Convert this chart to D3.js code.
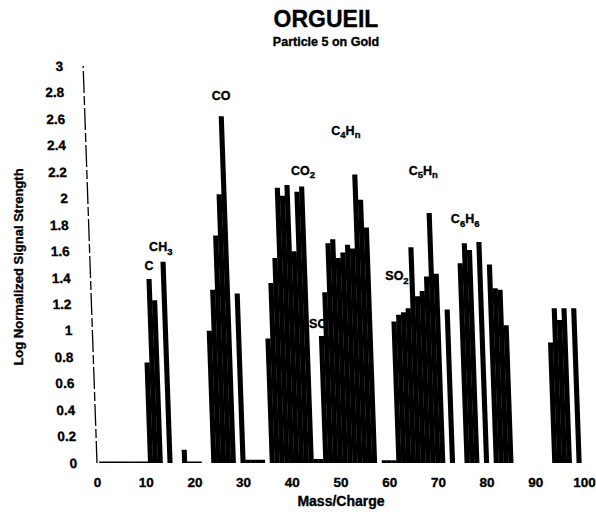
<!DOCTYPE html>
<html>
<head>
<meta charset="utf-8">
<script src="https://cdn.jsdelivr.net/npm/d3@7"></script>
<style>
  html, body { margin: 0; padding: 0; background: #fff; }
  svg { display: block; font-family: "Liberation Sans", Arial, sans-serif; font-weight: bold; }
  svg text { stroke: #000; stroke-width: 0.35px; }
</style>
</head>
<body>
<svg id="chart" width="596" height="512"></svg>
<script>
// Orgueil particle 5 on gold: log normalized signal per integer mass/charge
const masses = [
  1, 2, 3, 4, 5, 6, 7, 8, 9, 10,
  11, 12, 13, 15, 18, 19, 20, 21,
  24, 25, 26, 27, 28, 30, 31, 32, 33, 34,
  36, 37, 38, 39, 40, 41, 42, 43, 44, 45, 46,
  47, 48, 49, 50, 51, 52, 53, 54, 55, 56, 57, 59, 60, 61,
  62, 63, 64, 65, 66, 67, 68, 69, 70, 71, 73,
  76, 77, 78, 80, 82, 83, 84, 85,
  94, 95, 96, 97, 99
];
const signal = [
  0.012, 0.012, 0.012, 0.012, 0.012, 0.012, 0.012, 0.012, 0.012, 0.012,
  0.76, 1.39, 1.23, 1.52, 0.10, 0.012, 0.012, 0.012,
  1.00, 1.31, 1.72, 2.03, 2.62, 1.28, 0.025, 0.025, 0.025, 0.025,
  0.94, 1.36, 1.55, 2.08, 2.02, 2.10, 1.60, 2.05, 2.09, 0.03, 0.03,
  0.96, 1.29, 1.66, 1.69, 1.55, 1.59, 1.65, 1.62, 2.18, 1.99, 1.78, 0.02, 0.02, 0.02,
  1.07, 1.12, 1.14, 1.17, 1.63, 1.26, 1.30, 1.41, 1.89, 1.43, 1.16,
  1.51, 1.66, 1.61, 1.67, 1.50, 1.32, 1.31, 1.04,
  0.91, 1.17, 1.08, 1.17, 1.17
];

const xTickValues = [0, 10, 20, 30, 40, 50, 60, 70, 80, 90, 100];
const yTickValues = [0, 0.2, 0.4, 0.6, 0.8, 1, 1.2, 1.4, 1.6, 1.8, 2, 2.2, 2.4, 2.6, 2.8, 3];
const yTickLabels = ["0", "0.2", "0.4", "0.6", "0.8", "1", "1.2", "1.4", "1.6", "1.8", "2", "2.2", "2.4", "2.6", "2.8", "3"];

// Species annotations ("_" marks a one-character subscript), anchored in data units
const speciesNames = ["C", "CH_3", "CO", "CO_2", "C_4H_n", "C_5H_n", "C_6H_6", "SO_2", "SO"];
const speciesMass = [10.7, 13.1, 25.5, 42.3, 51.1, 67.0, 75.6, 61.6, 45.4];
const speciesSignal = [1.46, 1.60, 2.74, 2.18, 2.48, 2.18, 1.81, 1.38, 1.02];

const svg = d3.select("#chart");

const x = d3.scaleLinear().domain([0, 100]).range([97, 584]);
const y = d3.scaleLinear().domain([0, 3]).range([463, 66]);

// Slight perspective lean of the plotting plane
const lean = 2;
const plane = svg.append("g")
  .attr("transform", `translate(0,${y(0)}) skewX(${lean}) translate(0,${-y(0)})`);

// Adjacent masses touch, so neighbouring peaks read as solid blocks
const barWidth = (x(1) - x(0)) * 1.05;

plane.append("g")
  .selectAll("rect")
  .data(masses)
  .join("rect")
  .attr("x", d => x(d) - barWidth / 2)
  .attr("y", (d, i) => y(signal[i]))
  .attr("width", barWidth)
  .attr("height", (d, i) => y(0) - y(signal[i]))
  .attr("fill", "#000");

// Vertical axis line
plane.append("line")
  .attr("x1", x(0)).attr("x2", x(0))
  .attr("y1", y(0)).attr("y2", y(3))
  .attr("stroke", "#000")
  .attr("stroke-width", 1.3)
  .attr("stroke-dasharray", "22,3,9,3");

// Y tick labels
const yAxis = plane.append("g")
  .attr("transform", `translate(${x(0) - 20},0)`)
  .call(d3.axisLeft(y).tickValues(yTickValues)
    .tickFormat((d, i) => yTickLabels[i]).tickSize(0).tickPadding(0));
yAxis.select(".domain").remove();
yAxis.selectAll("text")
  .attr("font-family", "Liberation Sans, Arial, sans-serif")
  .attr("font-weight", "bold")
  .attr("font-size", 13.5)
  .attr("fill", "#000");

// X tick labels
const xAxis = svg.append("g")
  .attr("transform", `translate(0,${y(0) + 14})`)
  .call(d3.axisBottom(x).tickValues(xTickValues).tickSize(0).tickPadding(0));
xAxis.select(".domain").remove();
xAxis.selectAll("text")
  .attr("font-family", "Liberation Sans, Arial, sans-serif")
  .attr("font-weight", "bold")
  .attr("font-size", 13.5)
  .attr("fill", "#000");

// Species labels with subscripts
speciesNames.forEach((name, i) => {
  const t = svg.append("text")
    .attr("x", x(speciesMass[i]))
    .attr("y", y(speciesSignal[i]))
    .attr("text-anchor", "middle")
    .attr("font-size", 12.5)
    .attr("fill", "#000");
  const parts = name.split(/(_.)/).filter(s => s.length);
  let shifted = false;
  parts.forEach(p => {
    if (p[0] === "_") {
      t.append("tspan").attr("font-size", 9.5).attr("dy", 3.5).text(p[1]);
      shifted = true;
    } else {
      t.append("tspan").attr("dy", shifted ? -3.5 : 0).text(p);
      shifted = false;
    }
  });
});

// Titles
svg.append("text")
  .attr("x", 326).attr("y", 27)
  .attr("text-anchor", "middle")
  .attr("font-size", 23)
  .text("ORGUEIL");
svg.append("text")
  .attr("x", 326).attr("y", 46)
  .attr("text-anchor", "middle")
  .attr("font-size", 12.5)
  .text("Particle 5 on Gold");

// Axis titles
svg.append("text")
  .attr("x", 341).attr("y", 506)
  .attr("text-anchor", "middle")
  .attr("font-size", 14)
  .text("Mass/Charge");
svg.append("text")
  .attr("transform", "translate(23,267) rotate(-90)")
  .attr("text-anchor", "middle")
  .attr("font-size", 13)
  .text("Log Normalized Signal Strength");
</script>
</body>
</html>
